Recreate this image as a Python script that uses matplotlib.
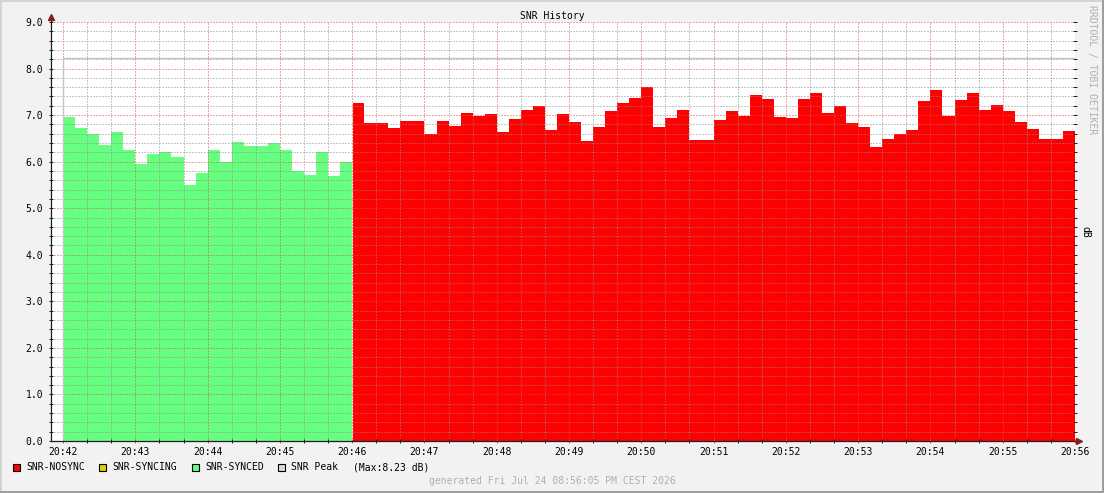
import numpy as np
import matplotlib
matplotlib.use('Agg')
import matplotlib.pyplot as plt
from matplotlib.patches import Rectangle
from matplotlib.lines import Line2D

# SNR samples, one every 10 seconds starting 20:42:00
STEP = 10
snr_synced = [6.96, 6.73, 6.60, 6.36, 6.64, 6.26, 5.94, 6.17, 6.21, 6.09,
              5.49, 5.76, 6.24, 5.99, 6.43, 6.34, 6.34, 6.41, 6.26, 5.81,
              5.72, 6.21, 5.70, 5.99]
snr_nosync = [7.26, 6.82, 6.82, 6.72, 6.87, 6.87, 6.59, 6.87, 6.76, 7.04,
              6.99, 7.02, 6.63, 6.92, 7.11, 7.19, 6.68, 7.02, 6.85, 6.44,
              6.74, 7.09, 7.26, 7.37, 7.60, 6.74, 6.94, 7.11, 6.46, 6.46,
              6.89, 7.09, 6.98, 7.43, 7.34, 6.96, 6.94, 7.34, 7.47, 7.04,
              7.19, 6.83, 6.74, 6.32, 6.48, 6.59, 6.68, 7.30, 7.54, 6.99,
              7.32, 7.47, 7.11, 7.21, 7.09, 6.85, 6.70, 6.48, 6.48, 6.66]
snr_peak = 8.23

tick_labels = ['20:42', '20:43', '20:44', '20:45', '20:46', '20:47', '20:48',
               '20:49', '20:50', '20:51', '20:52', '20:53', '20:54', '20:55', '20:56']
legend_labels = ['SNR-NOSYNC', 'SNR-SYNCING', 'SNR-SYNCED', 'SNR Peak']
legend_colors = ['#ff0000', '#e0d000', '#66ff80', '#d8d8d8']

title = 'SNR History'
stamp = 'generated Fri Jul 24 08:56:05 PM CEST 2026'

# colours (rrdtool defaults, toned down)
BACK = '#f2f2f2'
GRID = (0.56, 0.56, 0.56, 0.26)
MGRID = (0.87, 0.31, 0.31, 0.32)
ARROW = (0.5, 0.12, 0.12)
AXIS = (0.12, 0.12, 0.12)
MONO = 'DejaVu Sans Mono'

W, H = 1104, 493
fig = plt.figure(figsize=(W / 100, H / 100), dpi=100, facecolor=BACK)


def fx(px):
    return px / W


def fy(py):
    return 1 - py / H


ax = fig.add_axes([fx(51), fy(441), fx(1075) - fx(51), fy(22) - fy(441)])
ax.set_facecolor('white')

n_sync = len(snr_synced)
t_sync = np.arange(n_sync + 1) * STEP
t_nosync = (n_sync + np.arange(len(snr_nosync) + 1)) * STEP
t_end = t_nosync[-1]

ax.fill_between(t_sync, snr_synced + snr_synced[-1:], step='post',
                color=legend_colors[2], linewidth=0, zorder=2)
ax.fill_between(t_nosync, snr_nosync + snr_nosync[-1:], step='post',
                color=legend_colors[0], linewidth=0, zorder=2)
# thin seam where the state changes
ax.axvline(t_sync[-1], color='white', linewidth=0.8, zorder=2.5)
# peak line
ax.plot([t_sync[0], t_sync[0], t_end], [0, snr_peak, snr_peak],
        color='#c4c4c4', linewidth=1.0, zorder=3)

ax.set_xlim(-STEP, t_end)
ax.set_ylim(0, 9)

xt = np.arange(len(tick_labels)) * 60
ax.set_xticks(xt)
ax.set_xticklabels(tick_labels)
ax.set_xticks(np.arange(0, t_end + 1, 20), minor=True)
ax.set_yticks(np.arange(0, 9.01, 1.0))
ax.set_yticklabels(['%.1f' % v for v in np.arange(0, 9.01, 1.0)])
ax.set_yticks(np.arange(0, 9.01, 0.2), minor=True)

ax.grid(True, which='minor', color=GRID, linestyle=(0, (1, 2)), linewidth=0.72, zorder=4)
ax.grid(True, which='major', color=MGRID, linestyle=(0, (1, 2)), linewidth=0.72, zorder=4)
ax.set_axisbelow(False)

for s in ['top', 'right', 'left', 'bottom']:
    ax.spines[s].set_visible(False)

ax.tick_params(axis='both', which='both', labelsize=7, labelcolor='black',
               colors=AXIS, width=0.72, direction='inout', length=3)
ax.tick_params(axis='y', which='both', right=True, pad=4)
ax.tick_params(axis='x', which='major', colors=(0.87, 0.31, 0.31), labelcolor='black', pad=3)
for lab in ax.get_xticklabels() + ax.get_yticklabels():
    lab.set_family(MONO)

# axis lines with arrows
ax.add_line(Line2D([0, 1 + 4 / 1024], [0, 0], transform=ax.transAxes,
                   color=AXIS, linewidth=0.9, clip_on=False, zorder=5))
ax.add_line(Line2D([0, 0], [0, 1 + 4 / 419], transform=ax.transAxes,
                   color=AXIS, linewidth=0.9, clip_on=False, zorder=5))
ax.plot([1 + 4 / 1024], [0], marker='>', markersize=4, color=ARROW,
        transform=ax.transAxes, clip_on=False, zorder=6)
ax.plot([0], [1 + 5 / 419], marker='^', markersize=4, color=ARROW,
        transform=ax.transAxes, clip_on=False, zorder=6)

# frame shading
fig.add_artist(Rectangle((0, fy(2)), 1, fy(0) - fy(2), transform=fig.transFigure,
                         color='#d4d4d4', linewidth=0))
fig.add_artist(Rectangle((0, 0), fx(2), 1, transform=fig.transFigure,
                         color='#d4d4d4', linewidth=0))
fig.add_artist(Rectangle((0, 0), 1, fy(491), transform=fig.transFigure,
                         color='#9e9e9e', linewidth=0))
fig.add_artist(Rectangle((fx(1102), 0), fx(2), 1, transform=fig.transFigure,
                         color='#9e9e9e', linewidth=0))

# texts
fig.text(fx(552), fy(16), title, family=MONO, fontsize=7, ha='center', va='center')
fig.text(fx(1092), fy(5), 'RRDTOOL / TOBI OETIKER', family=MONO, fontsize=7,
         color='#b0b0b0', rotation=270, ha='center', va='top')
fig.text(fx(1085), fy(232), 'dB', family=MONO, fontsize=7, rotation=270,
         ha='center', va='center')
fig.text(fx(552), fy(481), stamp, family=MONO, fontsize=7, color='#b0b0b0',
         ha='center', va='center')

# legend
leg_x = [13, 99, 192, 278]
for x0, lab, col in zip(leg_x, legend_labels, legend_colors):
    fig.add_artist(Rectangle((fx(x0), fy(471)), fx(7), fy(464) - fy(471),
                             transform=fig.transFigure, facecolor=col,
                             edgecolor='black', linewidth=0.8))
    fig.text(fx(x0 + 13), fy(467), lab, family=MONO, fontsize=7, va='center')
fig.text(fx(353), fy(467), '(Max:%.2f dB)' % snr_peak, family=MONO, fontsize=7,
         va='center')

fig.savefig('out.png', dpi=100, facecolor=BACK)
